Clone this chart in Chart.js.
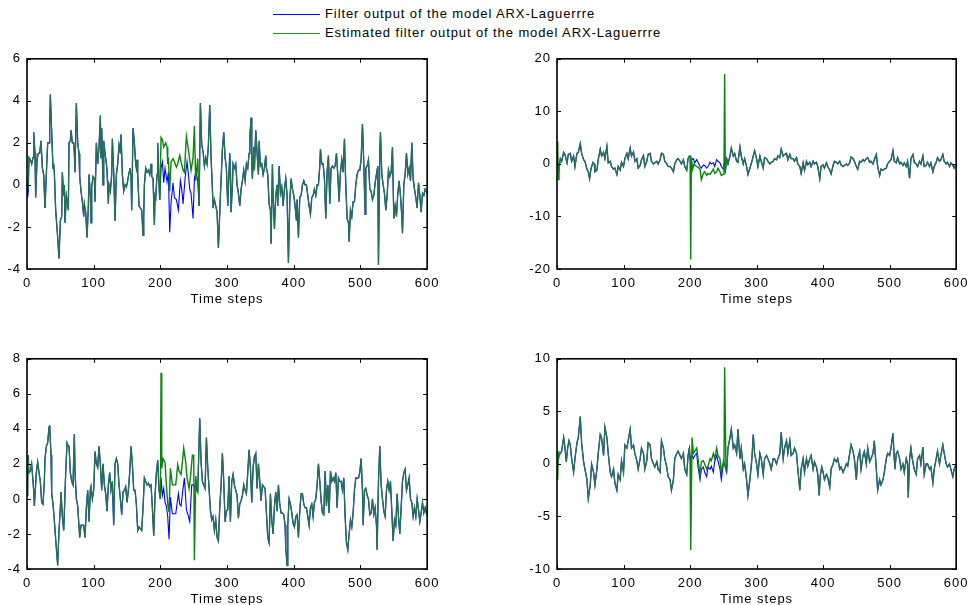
<!DOCTYPE html>
<html>
<head>
<meta charset="utf-8">
<script src="https://cdn.jsdelivr.net/npm/chart.js@4"></script>
<style>
  body { margin: 0; width: 969px; height: 605px; overflow: hidden; background: #fff; position: relative; font-family: "Liberation Sans", Arial, sans-serif; }
  canvas { position: absolute; }
  .leg { position: absolute; left: 273px; font-size: 13px; letter-spacing: 0.9px; color: #000; white-space: nowrap; }
  .leg span.l { display: inline-block; width: 47px; height: 0; border-top: 1.5px solid; vertical-align: middle; margin-right: 5px; }
</style>
</head>
<body>
<div class="leg" style="top:6px"><span class="l" style="border-color:#0000ff"></span>Filter output of the model ARX-Laguerrre</div>
<div class="leg" style="top:25px"><span class="l" style="border-color:#1a9a1a"></span>Estimated filter output of the model ARX-Laguerrre</div>

<canvas id="tl" width="445" height="265" style="left:0;top:45px"></canvas>
<canvas id="tr" width="448" height="265" style="left:526px;top:45px"></canvas>
<canvas id="bl" width="445" height="265" style="left:0;top:345px"></canvas>
<canvas id="br" width="448" height="265" style="left:526px;top:345px"></canvas>

<script>
// [time step, value]; where both curves coincide they share "common"
const tlCommon = [[0,0.1],[2,-0.6],[3,1.3],[5,1.2],[7,1.0],[9,1.3],[10,2.5],[12,1.5],[13,-0.6],[15,1.2],[17,1.5],[19,1.5],[21,2.1],[23,0.8],[25,0.5],[27,-1.1],[29,0.5],[31,2.0],[33,2.0],[34,2.8],[35,4.3],[37,2.5],[39,0.8],[40,1.0],[41,0.6],[43,-1.2],[46,-2.5],[48,-3.5],[50,-1.7],[52,-1.5],[53,0.6],[55,-0.5],[56,0.0],[57,-1.8],[59,-0.5],[60,-0.7],[62,-1.2],[63,2.0],[65,2.1],[66,2.6],[68,2.0],[70,2.0],[71,1.5],[72,0.6],[74,3.9],[76,2.0],[78,1.5],[79,0.4],[81,-0.3],[83,-0.8],[85,-1.5],[86,-0.9],[88,-1.3],[90,-2.5],[92,-1.0],[93,0.5],[95,-0.5],[96,-1.8],[97,-0.1],[99,0.4],[101,0.3],[102,-0.8],[104,2.0],[106,1.0],[108,1.8],[110,3.3],[111,1.3],[112,2.7],[114,0.0],[115,2.1],[117,1.5],[119,1.0],[120,0.7],[122,-0.9],[123,0.0],[125,-0.3],[127,0.5],[128,2.2],[130,0.6],[132,-1.7],[134,0.5],[136,1.0],[138,1.9],[140,1.5],[141,2.4],[143,0.5],[145,-0.3],[147,0.0],[149,-0.1],[151,0.2],[153,0.6],[154,0.8],[156,0.4],[157,-1.2],[159,2.7],[161,2.0],[163,1.0],[164,0.8],[165,1.2],[166,0.5],[168,-1.0],[170,-1.1],[172,-1.2],[174,-2.4],[175,-1.5],[176,0.0],[178,0.8],[180,0.6],[182,0.7],[184,0.5],[186,1.0],[187,0.4],[189,0.3],[191,-1.9],[192,-0.5],[193,-0.6],[195,0.5],[196,2.0],[198,0.0],[199,-0.7],
  [258,-1.0],[260,3.9],[262,1.9],[264,1.6],[266,0.9],[268,1.3],[270,1.0],[272,1.9],[274,3.8],[276,1.3],[278,-0.2],[279,-1.1],[281,-0.7],[283,-1.0],[285,-1.3],[287,-3.0],[290,-0.5],[293,1.7],[295,2.5],[297,1.3],[299,0.8],[301,-1.0],[304,1.5],[305,0.8],[306,-1.3],[308,0.0],[309,1.0],[311,0.8],[313,1.0],[315,0.0],[317,-0.4],[319,-1.0],[321,-0.2],[323,0.2],[325,0.7],[327,0.2],[329,1.0],[331,0.8],[333,1.5],[334,2.2],[336,3.2],[337,1.0],[338,0.3],[340,1.8],[341,0.7],[343,2.6],[345,1.5],[347,0.5],[348,2.1],[350,0.9],[352,1.0],[354,0.5],[356,0.8],[358,1.4],[359,0.8],[361,0.5],[363,-0.9],[365,-1.2],[366,-2.8],[368,1.0],[369,-0.5],[371,-2.1],[373,-0.5],[375,0.0],[376,-1.0],[378,0.9],[380,-0.4],[382,-0.1],[384,-1.0],[386,-0.2],[388,0.3],[390,-0.5],[392,-3.7],[394,-0.8],[396,0.3],[398,-0.2],[400,-0.5],[402,-1.0],[404,-1.7],[405,-0.7],[407,-2.5],[409,-0.6],[411,-0.5],[413,0.0],[415,0.2],[417,0.0],[419,0.0],[421,-0.5],[423,-1.0],[425,-1.4],[427,-0.6],[429,-0.5],[431,-0.2],[433,-0.5],[435,0.0],[437,0.0],[439,0.9],[440,1.7],[442,1.0],[444,1.0],[446,0.3],[448,-1.6],[450,0.6],[452,1.4],[454,-0.9],[456,0.8],[458,0.9],[460,0.8],[462,0.9],[464,1.5],[466,0.5],[468,-0.8],[470,0.6],[472,1.2],[474,0.6],[476,2.2],[478,0.0],[480,-1.6],[482,-1.8],[483,-2.7],[485,-1.2],[487,-1.5],[489,-0.8],[491,-0.8],[493,0.0],[495,0.5],[497,0.7],[499,0.7],[501,1.2],[503,2.9],[505,1.0],[507,-1.4],[508,0.8],[510,0.9],[512,1.2],[514,-0.2],[516,-0.3],[518,-0.7],[520,-0.5],[522,0.1],[524,0.5],[526,0.9],[527,-3.8],[529,1.5],[530,2.5],[532,0.5],[534,0.0],[536,-0.4],[538,-1.2],[540,-0.5],[542,0.7],[544,0.4],[546,0.6],[548,1.8],[550,-1.6],[552,-1.0],[554,-1.5],[556,-0.4],[558,0.2],[560,-0.5],[562,-1.5],[563,-2.3],[565,0.0],[567,0.5],[569,1.5],[571,0.5],[573,0.8],[575,0.2],[577,2.0],[579,0.3],[581,-0.2],[583,-0.6],[585,-1.1],[587,0.1],[589,-0.5],[591,-1.3],[593,-0.4],[595,-0.5],[597,-0.2],[600,-0.4]];
const tlBlue = [
  [[0,0.1],[1,-0.6],[2,-0.3]],
  [[199,-0.7],[201,0.8],[203,1.1],[205,0.1],[207,0.8],[210,0.15],[212,0.6],[214,-2.25],[216,-0.85],[219,0.1],[221,-0.6],[224,-0.7],[227,-1.2],[230,0.2],[232,-0.2],[234,-0.9],[237,0.3],[240,1.1],[242,0.5],[244,-0.2],[246,-0.4],[249,-1.6],[251,0.3],[253,0.6],[256,0.2],[258,-1.0]]
];
const tlGreen = [
  [[0,0.1],[1,-0.2],[2,0.3]],
  [[199,-0.7],[201,2.26],[203,2.15],[205,1.8],[208,2.0],[210,1.8],[211,1.0],[212,1.3],[214,-0.3],[216,1.1],[219,1.25],[221,1.1],[224,0.85],[226,1.0],[229,1.4],[231,1.1],[234,0.7],[236,0.6],[239,2.3],[241,1.9],[244,1.2],[246,0.7],[249,1.3],[251,2.8],[253,0.2],[256,1.25],[258,-1.0]]
];

const trCommon = [[0,0],[3,-1.0],[5,1.0],[7,0.5],[10,2.2],[12,1.8],[15,0.2],[17,1.8],[20,2.0],[22,0.5],[25,1.5],[27,-0.5],[30,2.0],[32,2.2],[35,3.9],[37,2.0],[40,0.8],[42,0.5],[45,-1.0],[47,-1.5],[49,-2.8],[51,-1.0],[54,0.3],[56,0.0],[57,-1.5],[60,-1.2],[62,0.8],[65,2.8],[67,1.5],[70,2.2],[72,1.0],[75,3.3],[77,0.2],[80,0.5],[82,-0.5],[85,-1.0],[87,-0.8],[90,-2.0],[92,-0.5],[95,-1.2],[97,0.3],[100,-0.5],[102,1.0],[105,2.0],[107,1.0],[110,3.0],[112,1.5],[115,2.3],[117,0.5],[120,1.0],[122,-0.8],[125,-0.3],[127,0.8],[130,1.6],[132,-0.5],[135,0.5],[137,1.8],[140,2.0],[142,0.5],[145,0.0],[147,0.2],[150,0.5],[152,0.0],[155,0.8],[157,2.0],[160,1.8],[162,0.5],[165,0.0],[167,-0.5],[170,-0.5],[172,-0.8],[175,-1.5],[177,0.0],[180,0.8],[182,1.0],[185,0.5],[187,0.0],[190,0.8],[192,-0.5],[195,-1.2],[197,1.0],[199,1.5],
  [255,1.0],[257,0.0],[260,1.5],[262,3.0],[265,1.5],[267,2.0],[270,0.5],[272,0.3],[275,3.2],[277,1.5],[280,0.0],[282,1.0],[285,-0.5],[287,-2.0],[290,-0.8],[293,0.5],[295,1.5],[297,2.5],[300,1.0],[302,-0.5],[305,1.5],[307,0.5],[310,-0.8],[312,1.2],[315,1.0],[317,0.5],[320,0.0],[322,0.3],[325,0.5],[327,1.0],[330,0.8],[332,1.5],[335,1.2],[337,2.8],[340,1.5],[342,1.8],[345,2.0],[347,0.8],[350,1.8],[352,1.0],[355,1.0],[357,0.5],[360,1.2],[362,0.0],[365,-0.5],[367,-1.8],[370,0.2],[372,-1.2],[375,0.5],[377,-0.2],[380,0.3],[382,-0.5],[385,0.5],[387,0.0],[390,0.3],[392,-0.5],[395,-2.8],[397,-0.5],[400,-0.2],[402,-0.8],[405,0.2],[407,-0.5],[410,-1.2],[412,-1.9],[415,-0.3],[417,0.5],[420,0.3],[422,0.0],[425,0.5],[427,-0.2],[430,-0.5],[432,-0.3],[435,0.0],[437,-0.3],[440,0.2],[442,1.3],[445,1.0],[447,0.5],[450,-0.5],[452,-1.0],[455,0.5],[457,0.3],[460,0.8],[462,0.5],[465,1.0],[467,1.2],[470,0.3],[472,0.5],[475,0.0],[477,0.8],[480,1.8],[482,-0.5],[485,-2.2],[487,-1.0],[490,-1.2],[492,-1.0],[495,-0.8],[497,0.0],[500,0.5],[502,0.8],[505,2.5],[507,0.5],[510,0.2],[512,1.2],[515,0.0],[517,0.3],[520,-0.3],[522,0.2],[525,-0.5],[527,0.5],[530,-2.7],[532,1.0],[535,1.8],[537,0.3],[540,0.0],[542,-0.5],[545,0.5],[547,0.0],[550,1.5],[552,-0.5],[555,-0.3],[557,0.3],[560,-0.5],[562,0.2],[565,-1.5],[567,-0.5],[570,0.3],[572,1.2],[575,0.5],[577,0.8],[580,1.8],[582,0.5],[585,0.0],[587,0.3],[590,-0.5],[592,0.2],[595,-0.3],[597,-0.8],[600,0.0]];
const trBlue = [
  [[0,0],[1,0.3],[2,-0.5],[3,-1.0]],
  [[199,1.5],[200,1.5],[202,0.8],[205,1.0],[207,0.2],[210,0.8],[212,0.3],[215,-0.5],[217,-0.8],[220,-0.2],[222,-0.3],[225,-0.8],[227,-0.5],[230,0.3],[232,0.0],[235,0.2],[237,-0.5],[240,0.8],[242,0.5],[245,0.2],[247,-0.5],[250,-1.0],[251,-0.5],[253,-1.5],[255,1.0]]
];
const trGreen = [
  [[0,0],[1,4.3],[2,-3.0],[3,-1.0]],
  [[199,1.5],[200,1.5],[201,-18.2],[202,1.0],[204,-1.0],[206,0.0],[208,-0.3],[210,-0.5],[212,-0.6],[215,-1.0],[217,-3.0],[220,-1.8],[222,-1.5],[225,-2.2],[227,-1.8],[230,-2.0],[232,-1.6],[235,-1.0],[237,-1.8],[240,-1.5],[242,-0.8],[245,-1.5],[247,-2.2],[250,-2.0],[251,-1.0],[252,17.1],[253,-1.5],[255,1.0]]
];

const blCommon = [[0,0.2],[2,2.5],[3,1.5],[5,1.6],[7,2.0],[10,0.5],[11,-0.4],[14,1.5],[16,2.1],[18,1.5],[20,1.0],[22,-0.2],[24,-0.3],[26,1.0],[27,2.3],[29,3.0],[31,3.2],[33,4.1],[34,4.2],[36,2.5],[37,0.3],[39,-0.3],[41,-1.2],[42,-1.8],[44,-2.8],[46,-3.8],[48,-1.8],[50,-0.5],[51,0.4],[53,-1.0],[55,-1.8],[56,-0.8],[58,1.5],[60,3.2],[62,3.0],[63,3.0],[65,1.5],[67,1.0],[69,0.8],[71,3.7],[72,1.5],[74,0.0],[76,-0.4],[77,-1.0],[79,-2.2],[81,-1.5],[83,-1.5],[85,-1.5],[87,-2.2],[89,-0.5],[91,0.5],[93,-1.3],[95,0.5],[96,0.7],[98,0.0],[100,0.5],[102,2.7],[104,2.0],[106,1.8],[108,3.0],[110,2.0],[112,0.5],[114,2.0],[116,0.8],[118,0.3],[120,-0.7],[122,0.8],[124,1.5],[126,0.5],[128,1.0],[130,-1.5],[132,2.0],[134,2.3],[136,2.0],[138,0.8],[140,0.0],[142,-0.9],[144,0.4],[146,0.5],[148,0.7],[150,-0.2],[152,0.5],[154,1.5],[156,3.0],[158,2.0],[160,0.5],[162,0.5],[164,-0.3],[166,-1.8],[168,-1.6],[170,-1.7],[172,-1.8],[174,-0.5],[176,1.2],[178,1.0],[180,0.8],[182,0.9],[184,0.7],[186,0.8],[188,-0.5],[190,-2.1],[192,0.2],[194,1.5],[196,2.2],[198,0.5],[200,0.0],
  [256,0.4],[259,4.6],[261,2.1],[263,1.0],[265,0.8],[267,0.6],[269,3.5],[271,1.8],[273,0.6],[275,-0.65],[277,-1.2],[279,-1.0],[281,-1.8],[283,-1.2],[285,-2.2],[287,-2.4],[289,-0.5],[291,0.8],[293,2.6],[295,1.0],[297,-1.3],[299,-0.7],[301,-0.6],[303,1.3],[305,-1.3],[307,1.0],[309,1.4],[311,0.8],[313,0.5],[315,0.2],[317,-1.1],[319,-0.3],[321,-0.1],[323,0.2],[325,0.8],[327,0.5],[329,0.3],[331,1.5],[333,2.8],[335,1.8],[337,-0.2],[339,1.8],[341,2.4],[343,2.6],[345,0.6],[347,2.0],[349,1.0],[351,-0.1],[353,0.8],[355,0.7],[357,0.6],[359,-0.8],[361,-2.2],[363,-2.5],[365,0.3],[367,-1.2],[369,-2.0],[371,-0.4],[373,0.4],[375,-0.7],[377,0.8],[379,-0.3],[381,-0.8],[383,-0.8],[385,-0.9],[387,-1.5],[388,-2.8],[390,-3.8],[391,-1.5],[393,0.0],[395,-0.3],[397,-0.8],[399,-1.4],[401,-1.6],[403,-1.0],[405,-0.9],[407,-2.2],[409,-0.7],[411,0.3],[413,0.3],[415,-0.3],[417,-0.5],[419,-0.5],[421,-1.0],[423,-1.5],[425,-0.5],[427,-0.3],[429,-1.0],[431,-0.2],[433,0.0],[435,0.8],[437,2.0],[439,1.0],[441,-0.1],[443,-0.8],[445,-0.9],[447,1.6],[449,-0.4],[451,0.8],[453,-0.8],[455,1.6],[457,1.0],[459,1.2],[461,1.0],[463,1.5],[465,-0.5],[467,1.2],[469,1.0],[471,1.0],[473,0.5],[475,1.2],[477,-1.0],[479,-2.5],[481,-2.9],[483,-2.0],[485,-1.2],[487,-1.6],[489,-0.8],[491,0.5],[493,1.2],[495,1.2],[497,1.2],[499,1.5],[501,2.3],[503,0.5],[504,-1.5],[506,0.5],[508,0.6],[510,0.2],[512,0.0],[514,-0.9],[516,-0.8],[518,0.0],[520,-0.9],[522,-0.5],[524,-1.5],[525,-2.9],[527,1.0],[529,3.0],[531,0.8],[533,0.0],[535,-0.7],[537,-1.0],[539,0.5],[541,1.0],[543,0.5],[545,1.0],[547,-0.7],[549,-2.4],[551,-1.2],[553,-1.5],[555,0.3],[557,-1.0],[559,-2.0],[561,-0.5],[563,1.0],[565,1.5],[567,1.7],[569,0.5],[571,0.8],[573,1.2],[575,0.0],[577,-0.2],[579,-1.0],[581,-0.5],[583,-1.0],[585,0.0],[587,-0.6],[589,-1.3],[591,-0.8],[593,-0.2],[595,-0.8],[597,-0.5],[600,-1.0]];
const blBlue = [
  [[0,0.2],[1,1.6],[2,1.7]],
  [[200,0.0],[201,1.2],[203,0.2],[205,0.6],[207,-0.2],[209,-0.4],[211,-1.0],[213,-2.3],[215,0.1],[218,-0.85],[223,-0.85],[227,0.3],[229,-0.3],[231,-0.4],[234,0.6],[236,1.2],[239,-0.6],[242,-1.0],[244,-1.3],[247,0.8],[250,0.8],[252,0.6],[254,0.5],[256,0.4]]
];
const blGreen = [
  [[0,0.2],[1,0.8],[2,2.5]],
  [[200,0.0],[201,7.2],[202,1.75],[204,2.3],[207,2.1],[209,0.8],[211,-0.25],[213,-0.75],[215,1.75],[218,0.8],[223,0.8],[226,1.95],[228,1.6],[231,1.4],[233,2.1],[235,2.9],[238,2.1],[240,1.2],[243,0.6],[245,1.2],[248,2.5],[250,2.5],[251,-3.5],[253,1.3],[255,0.5],[256,0.4]]
];

const brCommon = [[0,0],[3,0.8],[5,1.0],[7,1.2],[10,2.5],[12,1.5],[14,0.2],[16,1.5],[18,2.2],[20,1.8],[22,0.5],[25,-0.8],[27,0.5],[30,2.0],[32,2.5],[35,4.5],[37,2.0],[40,0.2],[42,-0.5],[45,-1.5],[47,-3.3],[50,-2.0],[52,0.0],[55,-0.8],[57,-2.0],[60,-0.5],[62,1.0],[65,2.8],[67,2.5],[70,0.8],[72,3.5],[75,2.5],[77,1.0],[80,-0.8],[82,-1.2],[85,-0.5],[87,-1.8],[90,-2.5],[92,-1.0],[95,-1.5],[97,0.3],[100,-0.8],[102,1.8],[105,1.5],[107,2.2],[110,3.3],[112,1.5],[115,1.8],[117,1.0],[120,0.3],[122,-0.5],[125,0.5],[127,1.5],[130,1.0],[132,-0.5],[135,0.3],[137,2.0],[140,1.8],[142,0.5],[145,0.0],[147,-0.3],[150,0.2],[152,-0.5],[155,-0.8],[157,2.2],[160,1.5],[162,0.5],[165,-0.3],[167,-1.2],[170,-1.5],[172,-2.5],[175,-1.5],[177,0.5],[180,1.0],[182,1.2],[185,0.8],[187,0.5],[190,1.0],[192,-0.5],[195,-1.0],[197,0.8],[199,1.5],
  [255,-0.8],[257,1.5],[260,2.5],[262,3.3],[265,1.5],[267,1.8],[270,1.0],[272,3.3],[275,0.5],[277,1.5],[280,-0.5],[282,0.0],[285,-1.5],[287,-3.0],[290,-1.5],[293,0.5],[295,2.8],[297,1.0],[300,0.0],[302,-1.0],[305,1.0],[307,0.5],[310,-1.0],[312,0.5],[315,0.8],[317,0.5],[320,0.0],[322,-0.5],[325,0.5],[327,0.5],[330,0.0],[332,0.5],[335,1.0],[337,3.0],[340,0.5],[342,1.5],[345,2.2],[347,1.0],[350,2.2],[352,0.8],[355,1.0],[357,1.5],[360,1.0],[362,-0.5],[365,-2.5],[367,-0.5],[370,0.5],[372,-0.8],[375,0.5],[377,-0.2],[380,0.5],[382,0.8],[385,-0.5],[387,0.2],[390,-0.3],[392,-1.0],[394,-3.0],[396,-1.0],[398,-0.3],[400,-0.8],[402,-1.5],[405,-1.0],[407,-1.3],[410,-2.2],[412,-0.5],[415,0.0],[417,0.5],[420,0.2],[422,0.5],[425,-0.5],[427,-0.3],[430,-0.8],[432,-0.5],[435,0.0],[437,-0.2],[440,1.0],[442,1.8],[445,1.2],[447,0.5],[450,-1.5],[452,0.5],[455,1.2],[457,-0.5],[460,0.8],[462,1.2],[465,0.0],[467,1.5],[470,0.2],[472,0.5],[475,1.0],[477,2.2],[480,-0.5],[482,-2.5],[485,-1.5],[487,-2.0],[490,-1.5],[492,-0.8],[495,0.5],[497,1.0],[500,0.8],[502,1.5],[505,2.9],[507,0.5],[508,-0.5],[510,1.0],[512,1.2],[515,0.5],[517,-0.5],[520,0.0],[522,-0.8],[525,0.5],[527,0.0],[528,-3.2],[530,0.5],[532,1.5],[534,0.5],[537,-0.5],[540,-1.0],[542,0.5],[545,0.8],[547,0.0],[550,1.6],[552,-1.0],[555,0.0],[557,0.0],[560,-0.5],[562,-0.3],[565,-1.8],[567,-0.5],[570,0.5],[572,1.2],[575,0.0],[577,0.8],[580,1.8],[582,1.0],[585,0.0],[587,-0.3],[590,0.0],[592,-0.5],[595,-1.2],[597,-0.5],[600,0.0]];
const brBlue = [
  [[0,0],[1,0.3],[2,0.6],[3,0.8]],
  [[199,1.5],[200,0.5],[203,0.8],[205,0.5],[207,0.8],[210,1.0],[212,-0.3],[215,-1.5],[217,-0.5],[220,-0.3],[222,-0.8],[225,-1.2],[227,-0.3],[230,-0.5],[232,-0.2],[235,-0.8],[237,0.2],[240,0.8],[242,0.3],[245,-0.5],[247,-1.5],[250,0.0],[252,0.0],[255,-0.8]]
];
const brGreen = [
  [[0,0],[1,-1.5],[2,1.2],[3,0.8]],
  [[199,1.5],[200,0.5],[201,-8.2],[203,2.5],[205,1.0],[207,1.2],[210,1.5],[212,0.5],[215,-1.1],[217,0.2],[220,0.3],[222,0.0],[225,-0.5],[227,-0.2],[230,0.5],[232,0.3],[235,1.0],[237,0.5],[240,1.5],[242,0.8],[245,0.5],[247,-0.8],[250,0.2],[251,0.0],[252,9.2],[254,-0.5],[255,-0.8]]
];

// y axis limits / tick steps of the four panels
const yLimits = { tl: [-4, 6, 2], tr: [-20, 20, 10], bl: [-4, 8, 2], br: [-10, 10, 5] };
const xTitle = 'Time steps';

const BLUE = '#0000ff';
const GREEN = '#0a840a';
const OVERLAP = '#257055';   // green drawn over blue where both outputs agree

// replace the common points inside each piece's range by that piece
function buildSeries(common, pieces) {
  const ranges = pieces.map(p => [p[0][0], p[p.length - 1][0]]);
  const kept = common.filter(([s]) => !ranges.some(([a, b]) => s >= a && s <= b));
  return kept.concat(...pieces).sort((p, q) => p[0] - q[0]).map(([x, y]) => ({ x, y }));
}

// MATLAB style box with inward ticks on all four sides
const boxPlugin = {
  id: 'box',
  beforeDraw(chart) { chart.ctx.letterSpacing = '1px'; },
  afterDatasetsDraw(chart) {
    const { ctx, chartArea: a, scales: { x, y } } = chart;
    ctx.save();
    ctx.strokeStyle = '#000';
    ctx.lineWidth = 1;
    ctx.beginPath();
    x.ticks.forEach(t => {
      const px = Math.round(x.getPixelForValue(t.value)) + 0.5;
      ctx.moveTo(px, a.bottom); ctx.lineTo(px, a.bottom - 4);
      ctx.moveTo(px, a.top); ctx.lineTo(px, a.top + 4);
    });
    y.ticks.forEach(t => {
      const py = Math.round(y.getPixelForValue(t.value)) + 0.5;
      ctx.moveTo(a.left, py); ctx.lineTo(a.left + 4, py);
      ctx.moveTo(a.right, py); ctx.lineTo(a.right - 4, py);
    });
    ctx.stroke();
    ctx.lineWidth = 1.6;
    ctx.strokeRect(a.left, a.top, a.right - a.left, a.bottom - a.top);
    ctx.restore();
  }
};

const font = { family: '"Liberation Sans", Arial, sans-serif', size: 13 };

function makePanel(id, common, blue, green, lim, yWidth) {
  const ranges = green.map(p => [p[0][0], p[p.length - 1][0]]);
  const inPiece = (a, b) => ranges.some(([lo, hi]) => a >= lo && b <= hi);
  new Chart(document.getElementById(id), {
    type: 'line',
    data: {
      datasets: [
        { label: 'Filter output of the model ARX-Laguerrre', data: buildSeries(common, blue),
          borderColor: BLUE, borderWidth: 1.1, pointRadius: 0, order: 2 },
        { label: 'Estimated filter output of the model ARX-Laguerrre', data: buildSeries(common, green),
          borderColor: GREEN, borderWidth: 1.4, pointRadius: 0, order: 1,
          segment: { borderColor: c => inPiece(c.p0.parsed.x, c.p1.parsed.x) ? GREEN : OVERLAP } }
      ]
    },
    options: {
      responsive: false,
      animation: false,
      events: [],
      layout: { padding: { top: 10, right: 16, left: 0, bottom: 0 } },
      plugins: { legend: { display: false }, tooltip: { enabled: false } },
      scales: {
        x: {
          type: 'linear', min: 0, max: 600,
          grid: { display: false, drawTicks: false },
          border: { display: false },
          ticks: { stepSize: 100, padding: 7, color: '#000', font: font, maxRotation: 0 },
          title: { display: true, text: xTitle, color: '#000', font: font, padding: { top: 0, bottom: 3 } },
          afterFit: s => { s.height = 41; }
        },
        y: {
          min: lim[0], max: lim[1],
          grid: { display: false, drawTicks: false },
          border: { display: false },
          ticks: { stepSize: lim[2], padding: 6, color: '#000', font: font },
          afterFit: s => { s.width = yWidth; }
        }
      }
    },
    plugins: [boxPlugin]
  });
}

makePanel('tl', tlCommon, tlBlue, tlGreen, yLimits.tl, 27);
makePanel('tr', trCommon, trBlue, trGreen, yLimits.tr, 31);
makePanel('bl', blCommon, blBlue, blGreen, yLimits.bl, 27);
makePanel('br', brCommon, brBlue, brGreen, yLimits.br, 31);
</script>
</body>
</html>
